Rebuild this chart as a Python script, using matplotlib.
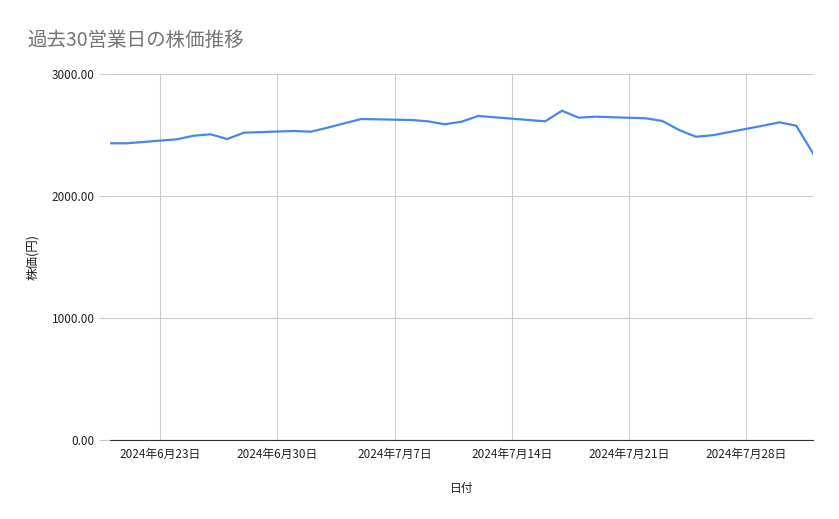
import pandas as pd
import matplotlib.pyplot as plt

plt.rcParams['font.family'] = ['Noto Sans CJK JP', 'DejaVu Sans']

# 営業日と終値
dates = ["2024-06-20", "2024-06-21", "2024-06-24", "2024-06-25", "2024-06-26",
         "2024-06-27", "2024-06-28", "2024-07-01", "2024-07-02", "2024-07-03",
         "2024-07-04", "2024-07-05", "2024-07-08", "2024-07-09", "2024-07-10",
         "2024-07-11", "2024-07-12", "2024-07-16", "2024-07-17", "2024-07-18",
         "2024-07-19", "2024-07-22", "2024-07-23", "2024-07-24", "2024-07-25",
         "2024-07-26", "2024-07-29", "2024-07-30", "2024-07-31", "2024-08-01"]
prices = [2432, 2432, 2465, 2494, 2506,
          2467, 2519, 2533, 2527, 2560,
          2596, 2631, 2623, 2612, 2588,
          2609, 2656, 2612, 2699, 2642,
          2650, 2637, 2615, 2541, 2486,
          2498, 2576, 2604, 2576, 2350]
tick_dates = ["2024-06-23", "2024-06-30", "2024-07-07", "2024-07-14",
              "2024-07-21", "2024-07-28"]
y_ticks = [0, 1000, 2000, 3000]

x = pd.to_datetime(dates)
ticks = pd.to_datetime(tick_dates)

fig = plt.figure(figsize=(8.39, 5.19), dpi=100)
ax = fig.add_axes([110 / 839, 1 - 440 / 519, (813 - 110) / 839, (440 - 74) / 519])

ax.plot(x, prices, color='#4a86e8', linewidth=1.6, solid_joinstyle='round')

ax.set_xlim(x[0], x[-1])
ax.set_ylim(0, 3000)
ax.set_yticks(y_ticks)
ax.set_yticklabels([f"{v:.2f}" for v in y_ticks])
ax.set_xticks(ticks)
ax.set_xticklabels([f"{d.year}年{d.month}月{d.day}日" for d in ticks])

ax.grid(True, color='#cccccc', linewidth=0.8)
ax.set_axisbelow(True)
for s in ['top', 'right', 'left']:
    ax.spines[s].set_visible(False)
ax.spines['bottom'].set_color('#333333')
ax.tick_params(axis='y', length=8, color='#cccccc', labelsize=8.5, pad=3, labelcolor='#222222')
ax.tick_params(axis='x', length=0, labelsize=8.5, pad=6, labelcolor='#222222')

ax.set_xlabel('日付', fontsize=8.5, labelpad=15, color='#222222')
ax.set_ylabel('株価(円)', fontsize=9, labelpad=9, color='#222222')

fig.text(27 / 839, 1 - 40 / 519, '過去30営業日の株価推移', fontsize=14,
         color='#757575', va='center', ha='left')

plt.savefig('out.png', dpi=100)
